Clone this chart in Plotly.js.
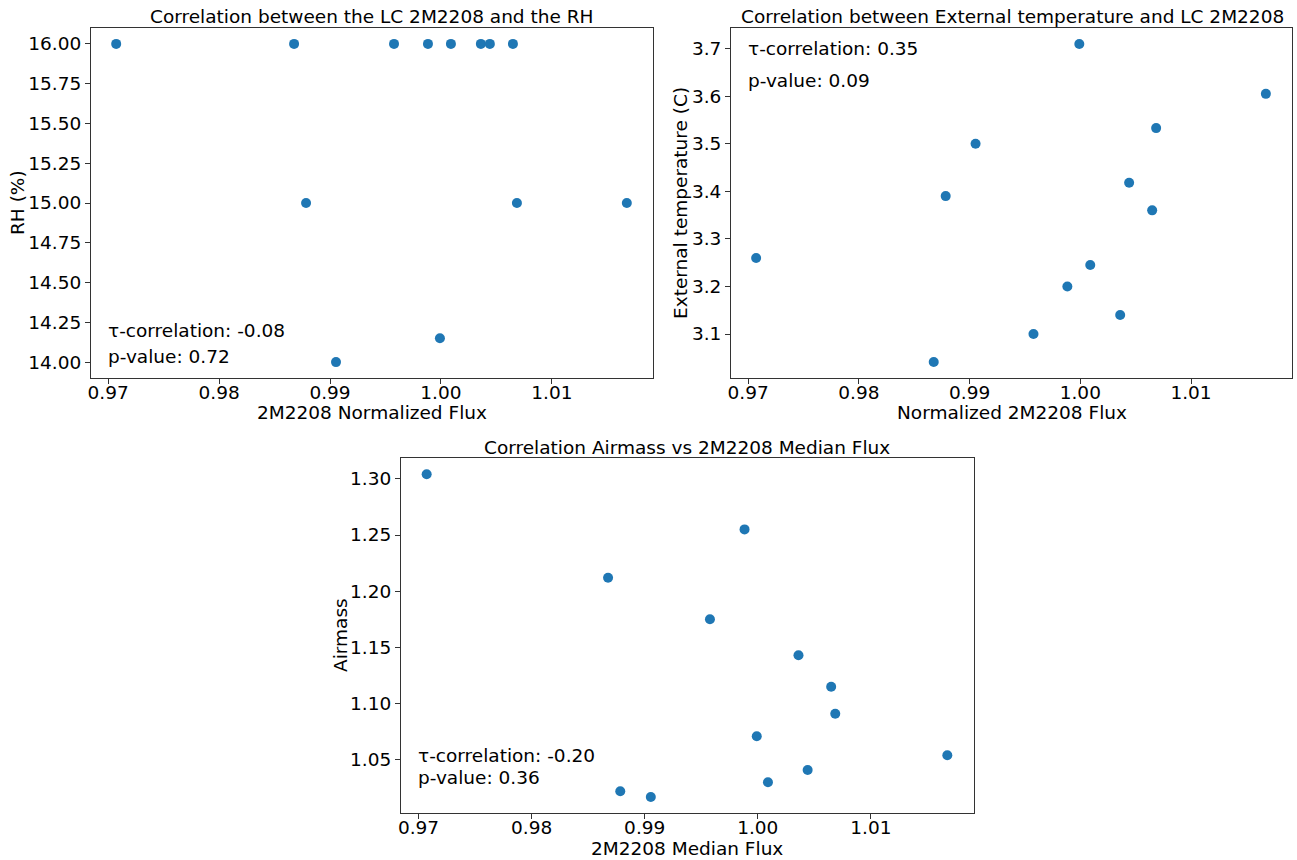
<!DOCTYPE html>
<html>
<head>
<meta charset="utf-8">
<script src="https://cdn.plot.ly/plotly-3.0.1.min.js"></script>
<style>html,body{margin:0;padding:0;background:#fff;}#chart{width:1297px;height:860px;}</style>
</head>
<body>
<div id="chart"></div>
<script>
// Data
const flux = [0.97072, 0.98676, 0.98784, 0.99054, 0.99577, 0.99883, 0.99991, 1.0009, 1.0036, 1.00441, 1.00649, 1.00685, 1.01676];
const rh = [16.00, 16.00, 15.00, 14.00, 16.00, 16.00, 14.15, 16.00, 16.00, 16.00, 16.00, 15.00, 15.00];
const extTemp = [3.26, 3.041, 3.39, 3.50, 3.10, 3.20, 3.71, 3.245, 3.14, 3.418, 3.36, 3.533, 3.605];
const airmass = [1.304, 1.212, 1.022, 1.017, 1.175, 1.255, 1.071, 1.030, 1.143, 1.041, 1.115, 1.091, 1.054];

const titles = ["Correlation between the LC 2M2208 and the RH",
                "Correlation between External temperature and LC 2M2208",
                "Correlation Airmass vs 2M2208 Median Flux"];
const xLabels = ["2M2208 Normalized Flux", "Normalized 2M2208 Flux", "2M2208 Median Flux"];
const yLabels = ["RH (%)", "External temperature (C)", "Airmass"];
const tauText = ["τ-correlation: -0.08", "τ-correlation: 0.35", "τ-correlation: -0.20"];
const pText = ["p-value: 0.72", "p-value: 0.09", "p-value: 0.36"];

const W = 1297, H = 860;
const px = v => v / W;
const py = v => 1 - v / H;
const FONT = "DejaVu Sans, sans-serif";
const BLUE = "#1f77b4";

const marker = {color: BLUE, size: 10};
const traces = [
  {x: flux, y: rh, xaxis: "x", yaxis: "y", mode: "markers", type: "scatter", marker: marker},
  {x: flux, y: extTemp, xaxis: "x2", yaxis: "y2", mode: "markers", type: "scatter", marker: marker},
  {x: flux, y: airmass, xaxis: "x3", yaxis: "y3", mode: "markers", type: "scatter", marker: marker}
];

function xax(dom, anchor) {
  return {domain: dom, anchor: anchor, range: [0.96845, 1.01912], tickvals: [0.97, 0.98, 0.99, 1.00, 1.01],
    tickformat: ".2f", showgrid: false, zeroline: false, showline: true, mirror: true,
    linecolor: "#333", linewidth: 1, ticks: "outside", ticklen: 5, tickcolor: "#333",
    ticklabelstandoff: -7,
    tickfont: {family: FONT, size: 18.5, color: "#000"}};
}
function yax(dom, anchor, range, tv, fmt) {
  return {domain: dom, anchor: anchor, range: range, tickvals: tv, tickformat: fmt,
    showgrid: false, zeroline: false, showline: true, mirror: true,
    linecolor: "#333", linewidth: 1, ticks: "outside", ticklen: 5, tickcolor: "#333",
    tickfont: {family: FONT, size: 18.5, color: "#000"}};
}

const yTop = [py(378), py(28)];
const yBot = [py(813), py(458)];

const layout = {
  width: W, height: H, margin: {l: 0, r: 0, t: 0, b: 0},
  paper_bgcolor: "#fff", plot_bgcolor: "#fff", showlegend: false,
  font: {family: FONT, size: 18, color: "#000"},
  xaxis: xax([px(91), px(653)], "y"),
  yaxis: yax(yTop, "x", [13.9, 16.1], [14.0, 14.25, 14.5, 14.75, 15.0, 15.25, 15.5, 15.75, 16.0], ".2f"),
  xaxis2: xax([px(731), px(1292)], "y2"),
  yaxis2: yax(yTop, "x2", [3.0075, 3.7435], [3.1, 3.2, 3.3, 3.4, 3.5, 3.6, 3.7], ".1f"),
  xaxis3: xax([px(401), px(974)], "y3"),
  yaxis3: yax(yBot, "x3", [1.0027, 1.3185], [1.05, 1.10, 1.15, 1.20, 1.25, 1.30], ".2f"),
  annotations: []
};

const f18 = {family: FONT, size: 18.5, color: "#000"};
function ann(text, x, y, opts) {
  layout.annotations.push(Object.assign({text: text, x: x, y: y, xref: "paper", yref: "paper",
    showarrow: false, font: f18, xanchor: "center", yanchor: "middle"}, opts || {}));
}
// subplot titles
ann(titles[0], px(372), py(17));
ann(titles[1], px(1012), py(17));
ann(titles[2], px(687), py(447));
// axis labels
ann(xLabels[0], px(372), py(413));
ann(xLabels[1], px(1012), py(413));
ann(xLabels[2], px(687), py(848));
ann(yLabels[0], px(18), py(203), {textangle: -90});
ann(yLabels[1], px(681), py(203), {textangle: -90});
ann(yLabels[2], px(340), py(635), {textangle: -90});
// statistics text
ann(tauText[0], px(106), py(331), {xanchor: "left"});
ann(pText[0], px(106), py(356), {xanchor: "left"});
ann(tauText[1], px(746), py(48), {xanchor: "left"});
ann(pText[1], px(746), py(81), {xanchor: "left"});
ann(tauText[2], px(416), py(755), {xanchor: "left"});
ann(pText[2], px(416), py(777), {xanchor: "left"});

Plotly.newPlot("chart", traces, layout, {displayModeBar: false, staticPlot: true});
</script>
</body>
</html>
